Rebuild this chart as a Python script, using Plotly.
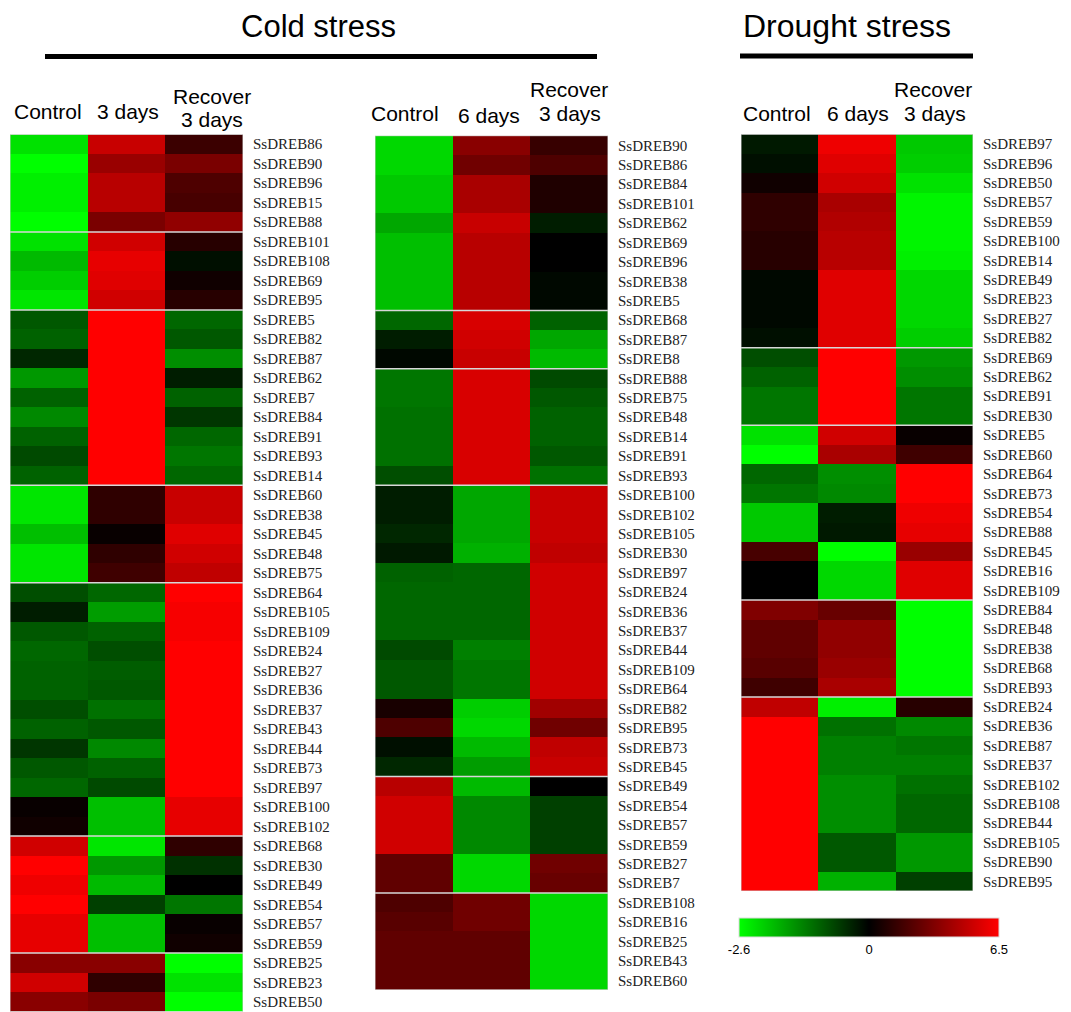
import numpy as np
import plotly.graph_objects as go

# ---------------- data ----------------
LOW, HIGH = -2.6, 6.5

p1_cols = ["Control", "3 days", "Recover 3 days"]
p1_rows = ["SsDREB86", "SsDREB90", "SsDREB96", "SsDREB15", "SsDREB88",
           "SsDREB101", "SsDREB108", "SsDREB69", "SsDREB95",
           "SsDREB5", "SsDREB82", "SsDREB87", "SsDREB62", "SsDREB7", "SsDREB84", "SsDREB91", "SsDREB93", "SsDREB14",
           "SsDREB60", "SsDREB38", "SsDREB45", "SsDREB48", "SsDREB75",
           "SsDREB64", "SsDREB105", "SsDREB109", "SsDREB24", "SsDREB27", "SsDREB36", "SsDREB37", "SsDREB43",
           "SsDREB44", "SsDREB73", "SsDREB97", "SsDREB100", "SsDREB102",
           "SsDREB68", "SsDREB30", "SsDREB49", "SsDREB54", "SsDREB57", "SsDREB59",
           "SsDREB25", "SsDREB23", "SsDREB50"]
p1_control = [-2.3, -2.6, -2.45, -2.45, -2.6,
              -2.3, -1.9, -2.1, -2.35,
              -0.9, -1.0, -0.4, -1.55, -1.0, -1.4, -1.0, -0.75, -1.0,
              -2.35, -2.35, -1.95, -2.35, -2.35,
              -0.8, -0.3, -0.9, -1.05, -1.0, -1.0, -0.8, -1.0, -0.55, -0.9, -1.05, 0.2, 0.4,
              5.3, 6.5, 6.1, 6.5, 5.9, 5.9,
              3.5, 5.3, 3.5]
p1_day3 = [5.1, 3.9, 4.7, 4.7, 3.1,
           5.3, 5.9, 5.7, 5.3,
           6.5, 6.5, 6.5, 6.5, 6.5, 6.5, 6.5, 6.5, 6.5,
           1.2, 1.2, 0.2, 1.2, 1.6,
           -1.05, -1.6, -1.0, -0.8, -0.95, -0.9, -1.15, -0.9, -1.4, -1.0, -0.75, -1.95, -1.95,
           -2.35, -1.55, -1.9, -0.65, -1.95, -1.95,
           3.5, 1.2, 3.1]
p1_recover = [1.5, 3.1, 2.0, 1.8, 3.7,
              1.0, -0.15, 0.4, 1.0,
              -1.05, -0.9, -1.45, -0.3, -1.0, -0.55, -1.05, -1.2, -1.05,
              5.1, 5.1, 5.7, 5.3, 4.9,
              6.5, 6.3, 6.3, 6.5, 6.5, 6.5, 6.5, 6.5, 6.5, 6.5, 6.5, 5.9, 5.9,
              1.2, -0.5, 0.0, -1.2, 0.2, 0.4,
              -2.6, -2.3, -2.6]
p1_clusters = [5, 4, 9, 5, 13, 6, 3]

p2_cols = ["Control", "6 days", "Recover 3 days"]
p2_rows = ["SsDREB90", "SsDREB86", "SsDREB84", "SsDREB101", "SsDREB62", "SsDREB69", "SsDREB96", "SsDREB38", "SsDREB5",
           "SsDREB68", "SsDREB87", "SsDREB8",
           "SsDREB88", "SsDREB75", "SsDREB48", "SsDREB14", "SsDREB91", "SsDREB93",
           "SsDREB100", "SsDREB102", "SsDREB105", "SsDREB30", "SsDREB97", "SsDREB24", "SsDREB36", "SsDREB37",
           "SsDREB44", "SsDREB109", "SsDREB64", "SsDREB82", "SsDREB95", "SsDREB73", "SsDREB45",
           "SsDREB49", "SsDREB54", "SsDREB57", "SsDREB59", "SsDREB27", "SsDREB7",
           "SsDREB108", "SsDREB16", "SsDREB25", "SsDREB43", "SsDREB60"]
p2_control = [-2.2, -2.2, -2.05, -2.05, -1.7, -1.95, -1.95, -1.95, -1.95,
              -1.05, -0.3, -0.08,
              -1.2, -1.2, -1.15, -1.15, -1.15, -0.8,
              -0.3, -0.3, -0.4, -0.25, -1.0, -1.05, -1.05, -1.05, -0.75, -0.9, -0.9, 0.6, 2.0, -0.15, -0.4,
              4.7, 5.3, 5.3, 5.3, 2.45, 2.45,
              2.0, 2.25, 2.45, 2.45, 2.45]
p2_day6 = [3.5, 2.85, 4.3, 4.3, 5.1, 4.7, 4.7, 4.7, 4.7,
           5.5, 5.3, 5.1,
           5.5, 5.5, 5.5, 5.5, 5.5, 5.5,
           -1.7, -1.7, -1.7, -1.8, -1.05, -1.05, -1.05, -1.05, -1.3, -1.2, -1.2, -2.1, -2.2, -1.9, -1.6,
           -1.9, -1.4, -1.4, -1.4, -2.2, -2.2,
           2.85, 2.85, 2.45, 2.45, 2.45]
p2_recover = [1.4, 2.0, 0.8, 0.8, -0.3, 0.0, 0.0, -0.08, -0.08,
              -1.0, -1.7, -1.9,
              -0.75, -0.9, -1.0, -1.0, -0.9, -1.15,
              5.1, 5.1, 5.1, 4.9, 5.3, 5.3, 5.3, 5.3, 5.3, 5.3, 5.3, 4.1, 2.85, 4.9, 5.1,
              0.0, -0.65, -0.65, -0.65, 2.85, 2.65,
              -2.2, -2.2, -2.2, -2.2, -2.2]
p2_clusters = [9, 3, 6, 15, 6, 5]

p3_cols = ["Control", "6 days", "Recover 3 days"]
p3_rows = ["SsDREB97", "SsDREB96", "SsDREB50", "SsDREB57", "SsDREB59", "SsDREB100", "SsDREB14", "SsDREB49",
           "SsDREB23", "SsDREB27", "SsDREB82",
           "SsDREB69", "SsDREB62", "SsDREB91", "SsDREB30",
           "SsDREB5", "SsDREB60", "SsDREB64", "SsDREB73", "SsDREB54", "SsDREB88", "SsDREB45", "SsDREB16", "SsDREB109",
           "SsDREB84", "SsDREB48", "SsDREB38", "SsDREB68", "SsDREB93",
           "SsDREB24", "SsDREB36", "SsDREB87", "SsDREB37", "SsDREB102", "SsDREB108", "SsDREB44", "SsDREB105",
           "SsDREB90", "SsDREB95"]
p3_control = [-0.25, -0.15, 0.4, 1.2, 1.2, 1.0, 1.0, -0.08, -0.08, -0.08, -0.15,
              -0.8, -1.0, -1.2, -1.2,
              -2.3, -2.6, -1.05, -1.2, -2.05, -2.05, 1.8, 0.0, 0.0,
              3.25, 2.45, 2.45, 2.25, 1.6,
              4.9, 6.5, 6.5, 6.5, 6.5, 6.5, 6.5, 6.5, 6.5, 6.5]
p3_day6 = [6.1, 5.7, 5.3, 4.3, 4.5, 4.7, 4.7, 5.7, 5.7, 5.7, 5.7,
           6.5, 6.5, 6.5, 6.5,
           5.3, 4.3, -1.45, -1.4, -0.3, -0.25, -2.6, -2.2, -2.2,
           2.65, 3.7, 3.7, 3.9, 4.3,
           -2.45, -1.15, -1.3, -1.3, -1.45, -1.45, -1.45, -0.9, -0.9, -1.8]
p3_recover = [-2.05, -2.1, -2.3, -2.5, -2.5, -2.5, -2.45, -2.2, -2.2, -2.2, -2.1,
              -1.55, -1.45, -1.2, -1.2,
              0.2, 1.6, 6.5, 6.5, 6.1, 5.9, 3.9, 5.7, 5.7,
              -2.6, -2.6, -2.6, -2.6, -2.6,
              1.0, -1.4, -1.2, -1.3, -1.15, -1.05, -1.05, -1.55, -1.55, -0.65]
p3_clusters = [11, 4, 9, 5, 10]

cbar_ticks = [LOW, 0, HIGH]


# ---------------- figure ----------------
W, H = 1071, 1012


def norm(v):
    v = np.asarray(v, dtype=float)
    return np.where(v < 0, v / abs(LOW), v / HIGH)


def px(x):
    return x / W


def py(y):
    return 1 - y / H


panels = [
    dict(rows=p1_rows, vals=[p1_control, p1_day3, p1_recover], cols=p1_cols, clusters=p1_clusters,
         x0=10, x1=243, y0=134.5, y1=1011.5),
    dict(rows=p2_rows, vals=[p2_control, p2_day6, p2_recover], cols=p2_cols, clusters=p2_clusters,
         x0=375, x1=608, y0=135.7, y1=990),
    dict(rows=p3_rows, vals=[p3_control, p3_day6, p3_recover], cols=p3_cols, clusters=p3_clusters,
         x0=741, x1=973, y0=134.3, y1=891),
]

fig = go.Figure()
shapes = []
layout_axes = {}

for i, p in enumerate(panels):
    n = len(p["rows"])
    z = norm(np.column_stack(p["vals"]))
    xa = "x" if i == 0 else f"x{i+1}"
    ya = "y" if i == 0 else f"y{i+1}"
    fig.add_trace(go.Heatmap(
        z=z, x=list(range(3)), y=list(range(n)),
        coloraxis="coloraxis", xaxis=xa, yaxis=ya,
        hoverinfo="skip", xgap=0, ygap=0,
    ))
    xkey = "xaxis" if i == 0 else f"xaxis{i+1}"
    ykey = "yaxis" if i == 0 else f"yaxis{i+1}"
    layout_axes[xkey] = dict(domain=[px(p["x0"]), px(p["x1"])], range=[-0.5, 2.5],
                             visible=False, anchor=ya, fixedrange=True)
    layout_axes[ykey] = dict(domain=[py(p["y1"]), py(p["y0"])], range=[n - 0.5, -0.5],
                             anchor=xa, side="right", tickmode="array",
                             tickvals=list(range(n)), ticktext=p["rows"],
                             showgrid=False, zeroline=False, showline=False, ticks="",
                             ticklabelstandoff=9,
                             tickfont=dict(family="Liberation Serif, Times New Roman, serif",
                                           size=15, color="#222222"),
                             fixedrange=True)
    # cluster separators
    b = 0
    for c in p["clusters"][:-1]:
        b += c
        shapes.append(dict(type="line", xref=xa, yref=ya, x0=-0.5, x1=2.5,
                           y0=b - 0.5, y1=b - 0.5,
                           line=dict(color="rgb(215,215,215)", width=1.5)))
    # faint border
    shapes.append(dict(type="rect", xref=xa, yref=ya, x0=-0.5, x1=2.5, y0=-0.5, y1=n - 0.5,
                       line=dict(color="rgb(200,200,200)", width=1)))

# title underlines
shapes.append(dict(type="line", xref="paper", yref="paper", x0=px(45), x1=px(597),
                   y0=py(56.5), y1=py(56.5), line=dict(color="black", width=5)))
shapes.append(dict(type="line", xref="paper", yref="paper", x0=px(740), x1=px(973),
                   y0=py(56), y1=py(56), line=dict(color="black", width=5)))

hfont = dict(family="Liberation Sans, Arial, sans-serif", size=21, color="black")
tfont = dict(family="Liberation Sans, Arial, sans-serif", size=31, color="black")
tfont2 = dict(family="Liberation Sans, Arial, sans-serif", size=32, color="black")

annotations = [
    dict(text="Cold stress", x=px(318), y=py(27), font=tfont),
    dict(text="Drought stress", x=px(847), y=py(26), font=tfont2),
    # panel 1 headers
    dict(text="Control", x=px(48), y=py(111), font=hfont),
    dict(text="3 days", x=px(128), y=py(111), font=hfont),
    dict(text="Recover", x=px(212), y=py(96), font=hfont),
    dict(text="3 days", x=px(212), y=py(120), font=hfont),
    # panel 2 headers
    dict(text="Control", x=px(405), y=py(113), font=hfont),
    dict(text="6 days", x=px(489), y=py(115), font=hfont),
    dict(text="Recover", x=px(569), y=py(89), font=hfont),
    dict(text="3 days", x=px(570), y=py(113), font=hfont),
    # panel 3 headers
    dict(text="Control", x=px(777), y=py(113), font=hfont),
    dict(text="6 days", x=px(858), y=py(113), font=hfont),
    dict(text="Recover", x=px(933), y=py(89), font=hfont),
    dict(text="3 days", x=px(935), y=py(113), font=hfont),
]
for a in annotations:
    a.update(xref="paper", yref="paper", showarrow=False, xanchor="center", yanchor="middle")

fig.update_layout(
    width=W, height=H,
    margin=dict(l=0, r=0, t=0, b=0),
    paper_bgcolor="white", plot_bgcolor="white",
    showlegend=False,
    shapes=shapes,
    annotations=annotations,
    coloraxis=dict(
        cmin=-1, cmax=1,
        colorscale=[[0, "#00FF00"], [0.5, "#000000"], [1, "#FF0000"]],
        colorbar=dict(
            orientation="h",
            x=px(869), xanchor="center",
            y=py(918), yanchor="top",
            len=260, lenmode="pixels",
            thickness=19, thicknessmode="pixels",
            xpad=0, ypad=0,
            outlinewidth=1, outlinecolor="rgb(220,220,220)",
            tickmode="array",
            tickvals=[float(norm(t)) for t in cbar_ticks],
            ticktext=[f"{t:g}" for t in cbar_ticks],
            ticks="",
            tickfont=dict(family="Liberation Sans, Arial, sans-serif", size=13, color="black"),
        ),
    ),
    **layout_axes,
)

fig.write_html(
    "out.html",
    config={"displayModeBar": False},
    post_script="document.body.style.margin='0';document.body.style.overflow='hidden';",
)
